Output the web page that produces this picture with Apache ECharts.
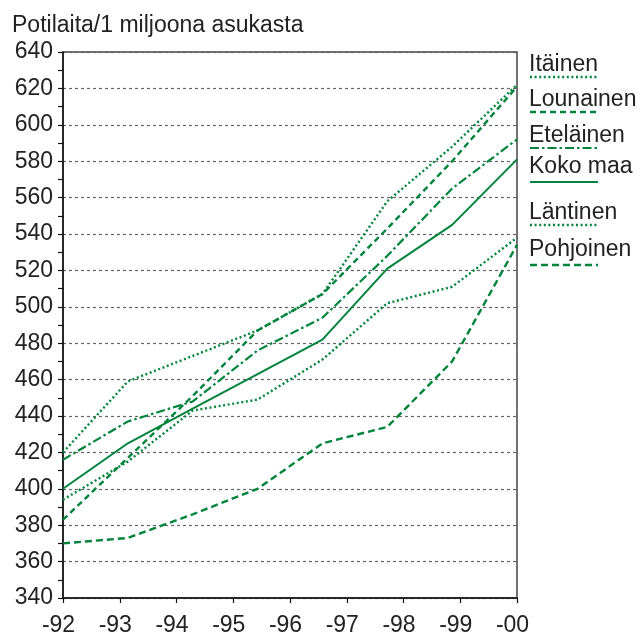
<!DOCTYPE html>
<html>
<head>
<meta charset="utf-8">
<script src="https://cdn.jsdelivr.net/npm/echarts@6/dist/echarts.min.js"></script>
<style>
html,body{margin:0;padding:0;background:#fff;}
#chart{width:642px;height:636px;}
</style>
</head>
<body>
<div id="chart"></div>
<script>
// ---- data ----
const yearLabels = ['-92','-93','-94','-95','-96','-97','-98','-99','-00'];
const samplePoints = ['1','2','3','4','5','6','7','8'];
const seriesNames = ['Itäinen','Lounainen','Eteläinen','Koko maa','Läntinen','Pohjoinen'];
const itainen   = [420, 459, 473, 487, 507, 558, 588, 622];
const lounainen = [383, 417, 451, 487, 507, 543, 580, 621];
const etelainen = [416, 437, 448, 476, 494, 528, 565, 592];
const kokoMaa   = [400, 425, 444, 463, 482, 521, 545, 581];
const lantinen  = [394, 415, 443, 449, 471, 502, 511, 538];
const pohjoinen = [370, 373, 386, 400, 425, 434, 470, 534];
const yTitle = 'Potilaita/1 miljoona asukasta';

// ---- styles ----
const GREEN = '#00843D';
const FONT = '"Liberation Sans", Arial, sans-serif';
const styles = {
  'Itäinen':   {type: [2, 2.6], width: 2.4},
  'Lounainen': {type: [6, 4], width: 2.4},
  'Eteläinen': {type: [9, 3, 2.5, 3], width: 2.2},
  'Koko maa':  {type: 'solid', width: 2},
  'Läntinen':  {type: [2, 2.6], width: 2.4},
  'Pohjoinen': {type: [7, 4], width: 2.4}
};
const values = {
  'Itäinen': itainen, 'Lounainen': lounainen, 'Eteläinen': etelainen,
  'Koko maa': kokoMaa, 'Läntinen': lantinen, 'Pohjoinen': pohjoinen
};
// legend layout (text center y, line y)
const legendLayout = [
  {ty: 65, ly: 77}, {ty: 100, ly: 112}, {ty: 136, ly: 148},
  {ty: 167, ly: 182}, {ty: 213, ly: 225}, {ty: 250, ly: 265}
];

const chart = echarts.init(document.getElementById('chart'), null, {renderer: 'canvas'});

const graphics = [{
  type: 'text', left: 12, top: 14,
  style: {text: yTitle, font: '23px ' + FONT, fill: '#222'}
}];
seriesNames.forEach((name, i) => {
  const L = legendLayout[i];
  graphics.push({
    type: 'text', x: 529, y: L.ty,
    style: {text: name, font: '23px ' + FONT, fill: '#222', textVerticalAlign: 'middle'}
  });
  graphics.push({
    type: 'line', shape: {x1: 530, y1: L.ly, x2: 598, y2: L.ly},
    style: {stroke: GREEN, lineWidth: styles[name].width, lineDash: styles[name].type === 'solid' ? null : styles[name].type}
  });
});

const option = {
  animation: false,
  backgroundColor: '#fff',
  grid: {left: 63, right: 125, top: 52, bottom: 38, show: true, borderColor: '#444', borderWidth: 1.5,
         containLabel: false, outerBoundsMode: 'none'},
  xAxis: [{
    type: 'category', data: yearLabels, boundaryGap: false,
    axisLine: {lineStyle: {color: '#111', width: 1.5}},
    axisTick: {show: true, length: 5, lineStyle: {color: '#111', width: 1.2}, alignWithLabel: true},
    axisLabel: {color: '#222', fontSize: 23, fontFamily: FONT, margin: 16, interval: 0, padding: [0, 9, 0, 0]},
    splitLine: {show: false}
  }, {
    type: 'category', data: samplePoints, boundaryGap: false, show: false, gridIndex: 0,
    axisLine: {show: false}, axisTick: {show: false}, axisLabel: {show: false}, splitLine: {show: false}
  }],
  yAxis: {
    type: 'value', min: 340, max: 640, interval: 20,
    axisLine: {show: true, lineStyle: {color: '#111', width: 1.5}},
    axisTick: {show: true, length: 5, lineStyle: {color: '#111', width: 1.2}},
    minorTick: {show: true, splitNumber: 2, length: 5, lineStyle: {color: '#111', width: 1.2}},
    axisLabel: {color: '#222', fontSize: 23, fontFamily: FONT, margin: 10, padding: [3, 0, 0, 0]},
    splitLine: {show: true, lineStyle: {color: '#666', type: [3, 3], width: 1.2}}
  },
  series: seriesNames.map(name => ({
    name: name, type: 'line', xAxisIndex: 1, data: values[name],
    symbol: 'none', smooth: false,
    lineStyle: {color: GREEN, width: styles[name].width, type: styles[name].type}
  })),
  graphic: graphics
};
chart.setOption(option);
</script>
</body>
</html>
